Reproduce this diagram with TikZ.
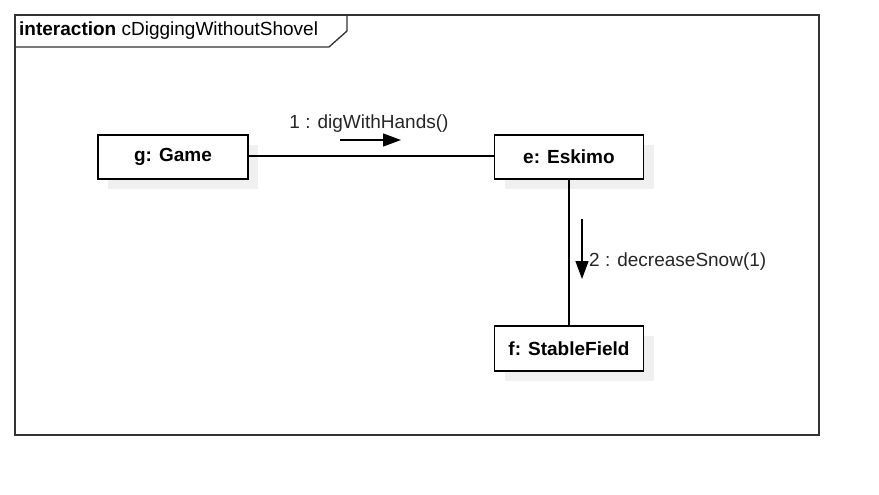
\documentclass[tikz,border=0pt]{standalone}
\usepackage{fontspec}
\setmainfont{Liberation Sans}
\usetikzlibrary{arrows.meta}
\definecolor{shadowgray}{HTML}{F0F0F0}
\begin{document}
\begin{tikzpicture}[x=1pt,y=-1pt,
  obj/.style={draw=black,line width=1.3pt,fill=white,minimum width=150pt,minimum height=44pt,inner sep=0pt,font=\fontsize{19}{22}\selectfont\bfseries},
  link/.style={line width=1.4pt},
  msg/.style={line width=1.3pt,-{Triangle[length=18pt,width=13pt]}},
  lbl/.style={font=\fontsize{19}{22}\selectfont,text=black!85,inner sep=0pt}]
\useasboundingbox (0,0) rectangle (879,495);
% frame
\draw[line width=1.3pt,draw=black!80] (15,15) rectangle (819,435);
\draw[line width=1.3pt,draw=black!80] (15,47) -- (329,47) -- (347,31) -- (347,15);
\node[anchor=west,inner sep=0pt,font=\fontsize{19}{22}\selectfont] (title) at (19,31) {\textbf{interaction} cDiggingWithoutShovel};
% shadows
\fill[shadowgray] (108,145) rectangle (258,189);
\fill[shadowgray] (505,145) rectangle (654,189);
\fill[shadowgray] (505,336) rectangle (654,381);
% nodes
\node[obj] (g) at (173,157) {g: Game};
\node[obj,minimum width=149pt] (e) at (569,157) {e: Eskimo};
\node[obj,minimum width=149pt,minimum height=45pt] (f) at (569,348.5) {f: StableField};
% links
\draw[link] ([yshift=1pt]g.east) -- ([yshift=1pt]e.west);
\draw[link] (e.south) -- (f.north);
% messages
\coordinate (m1s) at (340,140);
\coordinate (m1e) at (401,140);
\draw[msg] (m1s) -- (m1e);
\node[lbl] (l1) at (369,124) {1 : digWithHands()};
\coordinate (m2s) at (582,219);
\coordinate (m2e) at (582,279);
\draw[msg] (m2s) -- (m2e);
\node[lbl,anchor=west] (l2) at (589,262) {2 : decreaseSnow(1)};
\end{tikzpicture}
\end{document}
